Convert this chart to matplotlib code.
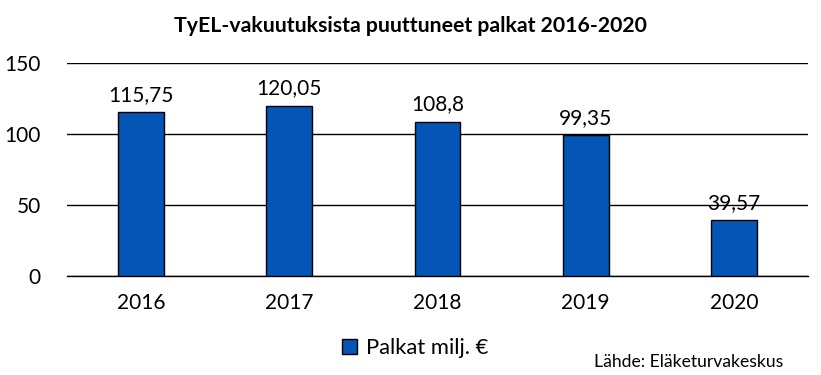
import matplotlib
matplotlib.use("Agg")
import matplotlib.pyplot as plt
from matplotlib.patches import Patch

# data
years = ['2016', '2017', '2018', '2019', '2020']
palkat = [115.75, 120.05, 108.8, 99.35, 39.57]
labels = ['115,75', '120,05', '108,8', '99,35', '39,57']
yticks = [0, 50, 100, 150]

plt.rcParams['font.family'] = ['Lato', 'DejaVu Sans']
bar_col = '#0455b5'

fig = plt.figure(figsize=(8.21, 3.75), dpi=100)
ax = fig.add_axes([67/821, 1 - 276/375, 741/821, 213/375])

x = range(len(years))
ax.bar(x, palkat, width=0.31, color=bar_col, edgecolor='black', linewidth=1, zorder=3)
for i, v in enumerate(palkat):
    ax.annotate(labels[i], (i, v), xytext=(0, 5), textcoords='offset points',
                ha='center', va='bottom', fontsize=15)

ax.set_xlim(-0.5, 4.5)
ax.set_ylim(0, 150)
ax.set_yticks(yticks)
ax.set_xticks(list(x))
ax.set_xticklabels(years)
ax.tick_params(axis='both', length=0, labelsize=15)
ax.tick_params(axis='y', pad=19)
ax.tick_params(axis='x', pad=12)
ax.grid(axis='y', color='black', linewidth=1, zorder=0)
for s in ['top', 'right', 'left']:
    ax.spines[s].set_visible(False)
ax.spines['bottom'].set_linewidth(1)

fig.text(0.5 * (170 + 651) / 821, 1 - 26/375, 'TyEL-vakuutuksista puuttuneet palkat 2016-2020',
         ha='center', va='center', fontsize=15.3, fontweight='bold')

leg = fig.legend(handles=[Patch(facecolor=bar_col, edgecolor='black', label='Palkat milj. €')],
                 loc='center', bbox_to_anchor=(415/821, 1 - 348/375), frameon=False,
                 fontsize=15.8, handlelength=0.7, handleheight=0.7, handletextpad=0.4)

fig.text(783/821, 1 - 362/375, 'Lähde: Eläketurvakeskus', ha='right', va='center', fontsize=12.6)

fig.savefig('out.png', dpi=100)
